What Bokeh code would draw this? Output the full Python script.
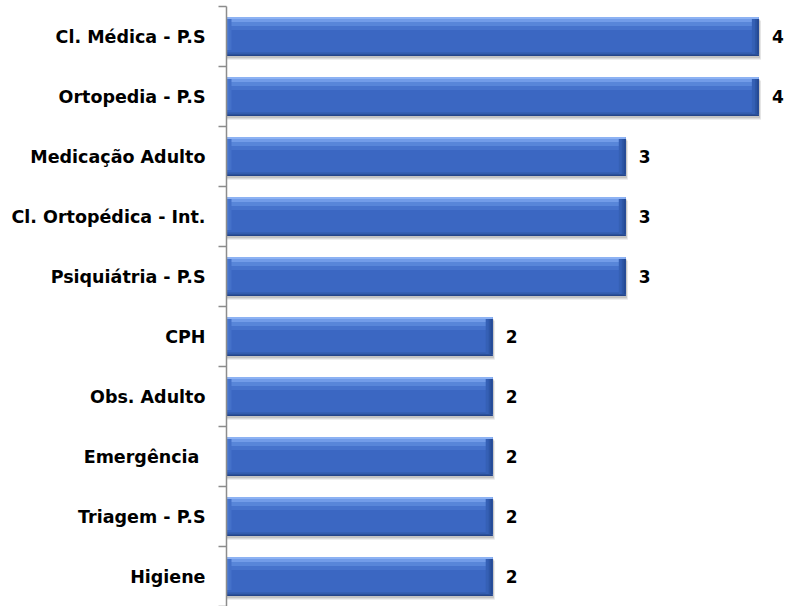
import numpy as np
from bokeh.plotting import figure
from bokeh.models import Range1d, LinearAxis, FixedTicker, ColumnDataSource
from bokeh.core.properties import value
from bokeh.embed import file_html
from bokeh.resources import INLINE

categories = ["Cl. Médica - P.S", "Ortopedia - P.S", "Medicação Adulto",
              "Cl. Ortopédica - Int.", "Psiquiátria - P.S", "CPH",
              "Obs. Adulto", "Emergência ", "Triagem - P.S", "Higiene"]
values = [4, 4, 3, 3, 3, 2, 2, 2, 2, 2]

FONT = "DejaVu Sans"
n = len(categories)
pos = (n - 1 - np.arange(n)) + 0.5          # slot centres, first category on top
vals = np.array(values, dtype=float)
src = ColumnDataSource(dict(y=pos, val=vals, lab=[str(v) for v in values]))

p = figure(width=785, height=606, output_backend="svg", toolbar_location=None,
           y_range=Range1d(0, n), x_range=Range1d(0, 4.2),
           x_axis_location=None, y_axis_location=None,
           min_border_left=226, min_border_right=0, min_border_top=6,
           min_border_bottom=0)
p.outline_line_color = None
p.grid.visible = False
p.background_fill_color = "white"
p.border_fill_color = "white"

# single axis: labels at slot centres, tick marks (minor) at slot boundaries
overrides = {float(y): c for y, c in zip(pos, categories)}
yaxis = LinearAxis(ticker=FixedTicker(ticks=[float(y) for y in pos],
                                      minor_ticks=list(range(n + 1))),
                   major_label_overrides=overrides,
                   axis_line_color="#8c8c8c", axis_line_width=1.5,
                   major_tick_line_color=None, major_tick_in=0, major_tick_out=0,
                   minor_tick_line_color="#8c8c8c", minor_tick_line_width=1.5,
                   minor_tick_in=0, minor_tick_out=8,
                   major_label_standoff=13,
                   major_label_text_font=FONT,
                   major_label_text_font_style="bold",
                   major_label_text_font_size="17.5px",
                   major_label_text_color="#000000")
p.add_layout(yaxis, "left")

H = 0.65
PX = 1.0 / 60.0   # one pixel in slot units (approx.)

# soft shadow under each bar
for k, a in [(4, 0.10), (3, 0.14), (2, 0.18)]:
    s = ColumnDataSource(dict(y=pos - k * PX, val=vals + k * 0.004))
    p.hbar(y="y", left=0.004, right="val", height=H, source=s,
           fill_color="#606060", fill_alpha=a, line_color=None)

# main bar body
p.hbar(y="y", left=0, right="val", height=H, source=src,
       fill_color="#3b67c2", line_color=None)

# horizontal shading bands (offset from bar top in px, thickness px, colour)
top = pos + H / 2
bot = pos - H / 2
bands = [
    (top, -1.0, 2.0, "#8db2f3"),
    (top, -3.5, 3.0, "#729ce8"),
    (top, -7.0, 4.0, "#5886d9"),
    (top, -11.0, 4.0, "#4673cc"),
    (bot, 3.0, 2.0, "#3660b4"),
    (bot, 1.5, 1.5, "#2c519a"),
    (bot, 0.5, 1.0, "#24458a"),
]
for base, off, th, col in bands:
    s = ColumnDataSource(dict(y=base + off * PX, val=vals))
    p.hbar(y="y", left=0, right="val", height=th * PX, source=s,
           fill_color=col, line_color=None)

# end bevels: darker right end, lighter left end
ex = 1.0 / 133.0   # one pixel in value units
for w, col in [(7, "#3560b5"), (4, "#2d56a6"), (2, "#264b95")]:
    s = ColumnDataSource(dict(y=pos, l=vals - w * ex, val=vals))
    p.hbar(y="y", left="l", right="val", height=H - 4 * PX, source=s,
           fill_color=col, line_color=None)
for w, col in [(5, "#4471c9"), (2, "#4d7bd2")]:
    s = ColumnDataSource(dict(y=pos + 2 * PX, l=np.zeros(n), r=np.full(n, w * ex)))
    p.hbar(y="y", left="l", right="r", height=H - 8 * PX, source=s,
           fill_color=col, line_color=None)

# value labels
p.text(x="val", y="y", text="lab", source=src, x_offset=13,
       text_baseline="middle", text_align="left", text_font=value(FONT),
       text_font_style="bold", text_font_size="17px", text_color="#000000")

open("out.html", "w").write(file_html(p, INLINE))
